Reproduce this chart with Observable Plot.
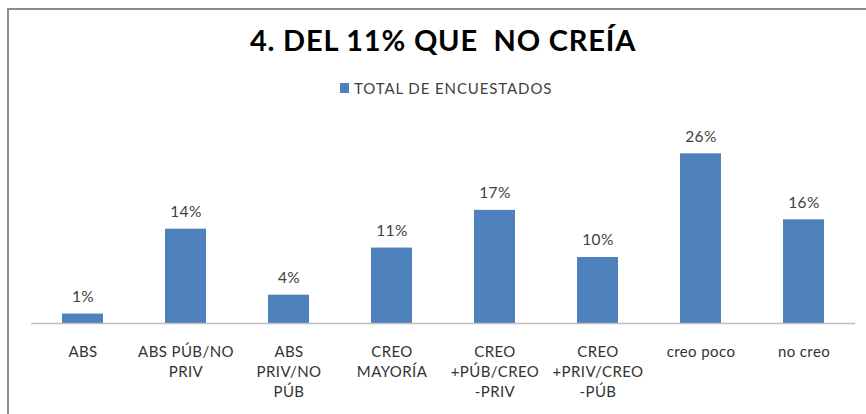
<!DOCTYPE html>
<html>
<head>
<meta charset="utf-8">
<script src="https://cdn.jsdelivr.net/npm/d3@7"></script>
<script src="https://cdn.jsdelivr.net/npm/@observablehq/plot@0.6"></script>
<style>
  html, body { margin: 0; padding: 0; background: #fff; }
  #wrap { position: relative; width: 866px; height: 414px; overflow: hidden; font-family: Lato, sans-serif; }
  #frame { position: absolute; left: 7px; top: 8px; width: 900px; height: 500px; border-left: 2px solid #8c8c8c; border-top: 2px solid #8c8c8c; }
  #title { position: absolute; left: 0; width: 886px; top: 22px; text-align: center; font-weight: bold; font-size: 29px; letter-spacing: 0.8px; color: #000; white-space: pre; }
  #legend { position: absolute; left: 340px; top: 79px; font-size: 15px; letter-spacing: 0.9px; color: #404040; white-space: pre; display: flex; align-items: center; }
  #legend .sw { width: 9px; height: 10px; background: #4F81BD; margin-right: 5px; }
  #chart { position: absolute; left: 0; top: 0; }
  #chart svg text { letter-spacing: 0.4px; }
</style>
</head>
<body>
<div id="wrap">
  <div id="chart"></div>
  <div id="frame"></div>
  <div id="title">4. DEL 11% QUE  NO CREÍA</div>
  <div id="legend"><span class="sw"></span><span>TOTAL DE ENCUESTADOS</span></div>
</div>
<script>
const categories = ["ABS", "ABS PÚB/NO\nPRIV", "ABS\nPRIV/NO\nPÚB", "CREO\nMAYORÍA", "CREO\n+PÚB/CREO\n-PRIV", "CREO\n+PRIV/CREO\n-PÚB", "creo poco", "no creo"];
const values = [1.43, 14.29, 4.29, 11.43, 17.14, 10.00, 25.71, 15.71];
const seriesName = "TOTAL DE ENCUESTADOS";

const data = categories.map((c, i) => ({cat: c, value: values[i]}));

const chart = Plot.plot({
  width: 866,
  height: 414,
  marginLeft: 31,
  marginRight: 11,
  marginTop: 125,
  marginBottom: 91,
  style: {fontFamily: "Lato, sans-serif", fontSize: "15px", color: "#404040", background: "transparent"},
  x: {domain: categories, paddingInner: 0.6, paddingOuter: 0.3, label: null},
  y: {domain: [0, 30], axis: null},
  marks: [
    Plot.barY(data, {x: "cat", y: "value", fill: "#4F81BD"}),
    Plot.ruleY([0], {stroke: "#bfbfbf", strokeWidth: 1.5}),
    Plot.text(data, {x: "cat", y: "value", text: d => Math.round(d.value) + "%", dy: -17, fill: "#404040", fontSize: 15.5}),
    Plot.axisX({tickSize: 0, tickPadding: 19, lineHeight: 1.35, fontSize: 15, fill: "#333", label: null})
  ]
});
document.getElementById("chart").appendChild(chart);
</script>
</body>
</html>
